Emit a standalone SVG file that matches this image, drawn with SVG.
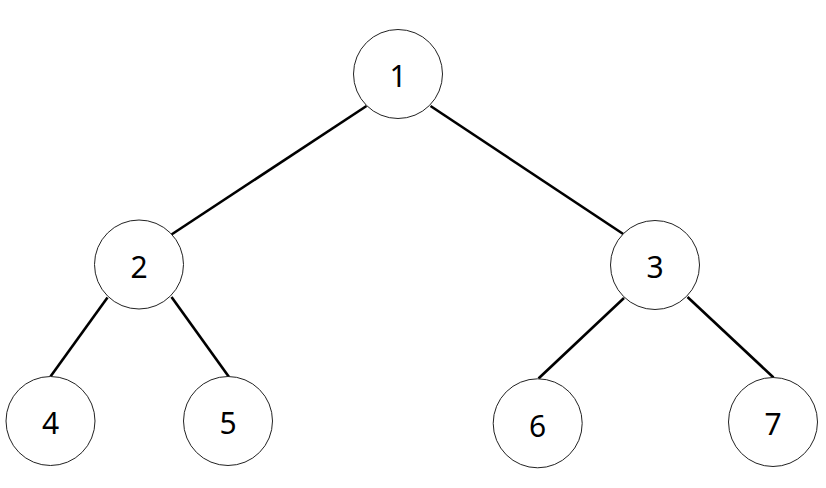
<svg xmlns="http://www.w3.org/2000/svg" width="826" height="488" viewBox="0 0 826 488">
<style>
.node circle{fill:#fff;stroke:#222;stroke-width:1}
.node text{font-family:"Noto Sans","Open Sans","DejaVu Sans",sans-serif;font-size:30px;fill:#000;text-anchor:middle}
.edges line{stroke:#000;stroke-width:2.6;stroke-linecap:butt}
</style>
<rect width="826" height="488" fill="#fff"/>
<g class="edges">
<line x1="366.5" y1="106" x2="171.5" y2="234.5"/>
<line x1="430.5" y1="106" x2="624" y2="234.5"/>
<line x1="107.5" y1="297.5" x2="50.5" y2="376.5"/>
<line x1="171.5" y1="297" x2="229" y2="377"/>
<line x1="624" y1="298" x2="538.5" y2="378.5"/>
<line x1="687.5" y1="297" x2="773.5" y2="377.5"/>
</g>
<g id="n1" class="node"><circle cx="398" cy="74" r="44.5"/><text x="398" y="86.5">1</text></g>
<g id="n2" class="node"><circle cx="139" cy="264.5" r="44.5"/><text x="139" y="277.5">2</text></g>
<g id="n3" class="node"><circle cx="655" cy="265" r="44.5"/><text x="655" y="278">3</text></g>
<g id="n4" class="node"><circle cx="50.5" cy="421" r="44.5"/><text x="50.5" y="434">4</text></g>
<g id="n5" class="node"><circle cx="228" cy="421" r="44.5"/><text x="228" y="434">5</text></g>
<g id="n6" class="node"><circle cx="537.7" cy="423.3" r="44.5"/><text x="537.7" y="436.5">6</text></g>
<g id="n7" class="node"><circle cx="773" cy="422" r="44.5"/><text x="773" y="435">7</text></g>
</svg>
